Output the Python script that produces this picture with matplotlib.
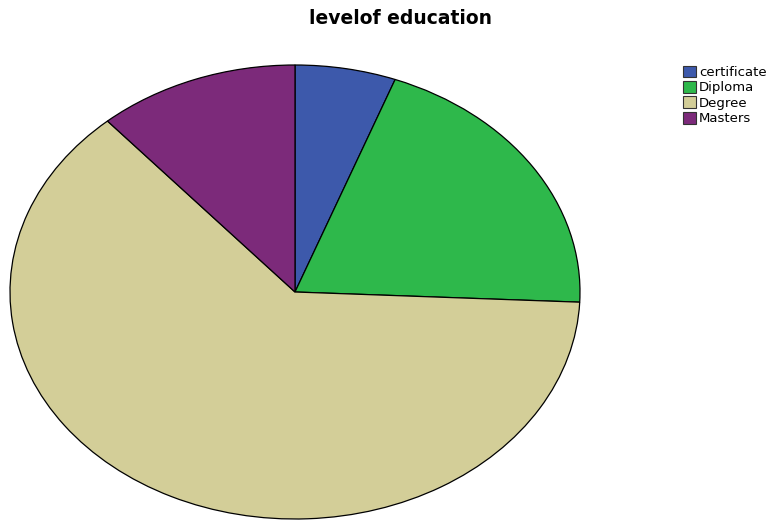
import matplotlib.pyplot as plt
import matplotlib.patches as mpatches

plt.rcParams["font.family"] = ["DejaVu Sans"]

levels = ["certificate", "Diploma", "Degree", "Masters"]
counts = [2, 7, 22, 4]
level_colors = ["#3d59ab", "#2eb84b", "#d3ce98", "#7c2a7a"]

fig = plt.figure(figsize=(7.69, 5.21), dpi=100)

# pie drawn stretched to fill an elliptical area
ax = fig.add_axes([10 / 769, 2 / 521, 570 / 769, 454 / 521])
ax.pie(
    counts,
    colors=level_colors,
    startangle=90,
    counterclock=False,
    wedgeprops=dict(edgecolor="black", linewidth=0.9),
)
ax.set_aspect("auto")
ax.set_xlim(-1.0, 1.0)
ax.set_ylim(-1.0, 1.0)
ax.axis("off")

fig.text(400 / 769, 1 - 19 / 521, "levelof education", ha="center", va="center",
         fontsize=13.5, fontweight="bold")

handles = [mpatches.Patch(facecolor=c, edgecolor="#333333", linewidth=0.8, label=l)
           for l, c in zip(levels, level_colors)]
legend = fig.legend(
    handles=handles, loc="upper left", bbox_to_anchor=(680 / 769, 1 - 63 / 521),
    fontsize=9.5, frameon=False, handlelength=1.05, handleheight=1.0,
    handletextpad=0.2, labelspacing=0.15, borderpad=0.2, borderaxespad=0,
)

fig.savefig("out.png", dpi=100)
